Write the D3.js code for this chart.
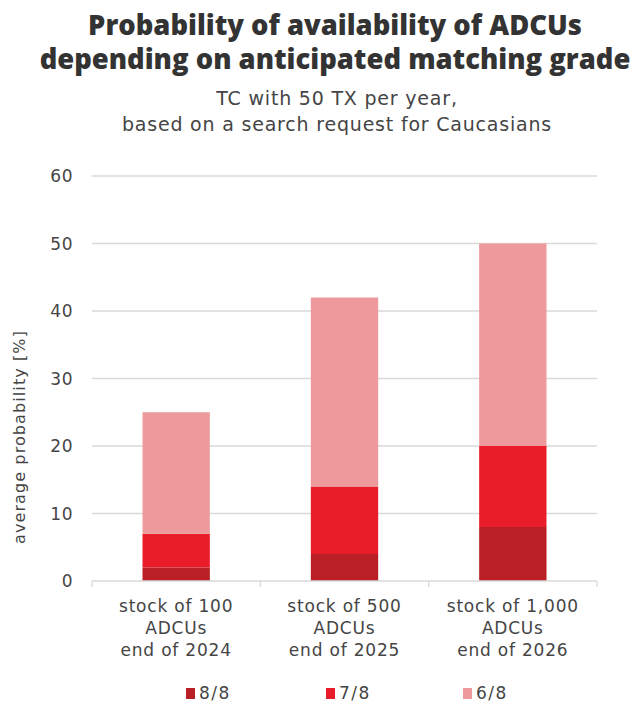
<!DOCTYPE html>
<html>
<head>
<meta charset="utf-8">
<script src="https://cdn.jsdelivr.net/npm/d3@7"></script>
<style>
  body { margin: 0; background: #fff; }
  text { font-family: "DejaVu Sans", sans-serif; fill: #454545; }
</style>
</head>
<body>
<svg width="636" height="704"></svg>
<script>
// chart data
const categories = [
  ["stock of 100", "ADCUs", "end of 2024"],
  ["stock of 500", "ADCUs", "end of 2025"],
  ["stock of 1,000", "ADCUs", "end of 2026"]
];
const grades = ["8/8", "7/8", "6/8"];
const values88 = [2, 4, 8];
const values78 = [5, 10, 12];
const values68 = [18, 28, 30];
const yTicks = [0, 10, 20, 30, 40, 50, 60];
const colors = ["#b91f24", "#e91c2a", "#ee9a9c"];

const svg = d3.select("svg");

// title + subtitle
const title = ["Probability of availability of ADCUs", "depending on anticipated matching grade"];
svg.selectAll(".title").data(title).enter().append("text")
  .attr("x", 335).attr("y", (d, i) => 35 + i * 34)
  .attr("text-anchor", "middle")
  .style("font-family", "'Open Sans', sans-serif")
  .style("font-size", "27.4px").style("font-weight", "800").style("fill", "#333")
  .text(d => d);

const subtitle = ["TC with 50 TX per year,", "based on a search request for Caucasians"];
svg.selectAll(".sub").data(subtitle).enter().append("text")
  .attr("x", 337).attr("y", (d, i) => 105 + i * 26)
  .attr("text-anchor", "middle")
  .style("font-size", "19px").style("letter-spacing", "0.8px")
  .text(d => d);

// scales
const x = d3.scaleBand().domain(d3.range(categories.length)).range([92, 597]).paddingInner(0.6).paddingOuter(0.3);
const xBand = d3.scaleBand().domain(d3.range(categories.length)).range([92, 597]);
const y = d3.scaleLinear().domain([0, 60]).range([581, 176]);

// gridlines
svg.append("g").selectAll("line").data(yTicks.slice(1)).enter().append("line")
  .attr("x1", 92).attr("x2", 597)
  .attr("y1", d => y(d)).attr("y2", d => y(d))
  .attr("stroke", "#d9d9d9").attr("stroke-width", 1.3);

// y tick labels
svg.append("g").selectAll("text").data(yTicks).enter().append("text")
  .attr("x", 73).attr("y", d => y(d) + 6)
  .attr("text-anchor", "end")
  .style("font-size", "17px").style("letter-spacing", "0.5px")
  .text(d => d);

// y label
svg.append("text")
  .attr("transform", "translate(25,437) rotate(-90)")
  .attr("text-anchor", "middle")
  .style("font-size", "16px").style("letter-spacing", "1.1px")
  .text("average probability [%]");

// stacked bars
const rows = categories.map((c, i) => ({ i: i, "8/8": values88[i], "7/8": values78[i], "6/8": values68[i] }));
const stack = d3.stack().keys(grades)(rows);

svg.append("g").selectAll("g").data(stack).enter().append("g")
  .attr("fill", (d, i) => colors[i])
  .selectAll("rect").data(d => d).enter().append("rect")
  .attr("x", d => x(d.data.i))
  .attr("width", x.bandwidth())
  .attr("y", d => y(d[1]))
  .attr("height", d => y(d[0]) - y(d[1]));

// x axis line + ticks
svg.append("line")
  .attr("x1", 92).attr("x2", 597).attr("y1", y(0)).attr("y2", y(0))
  .attr("stroke", "#d9d9d9").attr("stroke-width", 1.3);
const boundaries = d3.range(categories.length).map(i => xBand(i)).concat([597]);
svg.append("g").selectAll("line").data(boundaries).enter().append("line")
  .attr("x1", d => d).attr("x2", d => d)
  .attr("y1", y(0)).attr("y2", y(0) + 6)
  .attr("stroke", "#d9d9d9").attr("stroke-width", 1.3);

// category labels
const catG = svg.append("g").selectAll("text").data(categories).enter().append("text")
  .attr("text-anchor", "middle")
  .style("font-size", "17px").style("letter-spacing", "0.8px");
catG.selectAll("tspan").data((d, i) => d.map(t => ({ t: t, i: i }))).enter().append("tspan")
  .attr("x", d => xBand(d.i) + xBand.bandwidth() / 2)
  .attr("y", (d, j) => 612 + j * 22)
  .text(d => d.t);

// legend
const legendX = [186, 326, 463];
const leg = svg.append("g").selectAll("g").data(grades).enter().append("g")
  .attr("transform", (d, i) => "translate(" + legendX[i] + ",688)");
leg.append("rect").attr("width", 9).attr("height", 11).attr("fill", (d, i) => colors[i]);
leg.append("text").attr("x", 13).attr("y", 11).style("font-size", "17px").style("letter-spacing", "1.5px").text(d => d);
</script>
</body>
</html>
